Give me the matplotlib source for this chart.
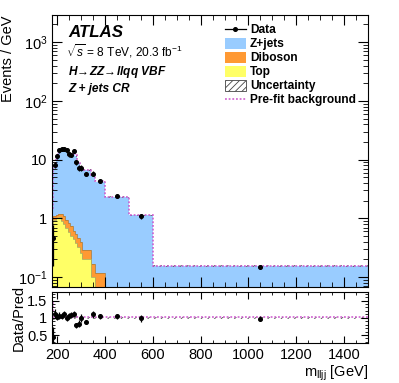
import numpy as np
import matplotlib
matplotlib.use("Agg")
import matplotlib.pyplot as plt
from matplotlib.patches import Patch
from matplotlib.lines import Line2D
from matplotlib.ticker import MultipleLocator, LogLocator, NullFormatter, FixedLocator, FixedFormatter

plt.rcParams['font.family'] = ['Liberation Sans', 'DejaVu Sans']
plt.rcParams['mathtext.fontset'] = 'custom'
plt.rcParams['mathtext.rm'] = 'Liberation Sans'
plt.rcParams['mathtext.it'] = 'Liberation Sans:italic'
plt.rcParams['hatch.linewidth'] = 0.6

# bin edges in m_lljj [GeV]
edges = [180, 185, 195, 205, 215, 225, 235, 245, 255, 265, 275, 285, 295, 305,
         340, 360, 400, 500, 600, 1500]

# events / GeV
data = [0.46, 8.2, 11.4, 14.4, 15.0, 15.0, 14.4, 12.3, 12.0, 14.0, 9.1, 7.3, 7.3,
        5.8, 5.8, 4.4, 2.4, 1.1, 0.15]
zjets = [0.45, 6.2, 9.9, 12.3, 12.9, 12.4, 13.4, 10.9, 10.4, 12.0, 11.1, 8.3, 6.9,
         6.4, 5.1, 4.1, 2.27, 1.11, 0.152]
diboson = [0.1, 0.15, 0.15, 0.15, 0.3, 0.28, 0.25, 0.27, 0.23, 0.15, 0.17, 0.15, 0.14,
           0.09, 0.07, 0.07, 0.02, 0.008, 0.001]
top = [0.5, 0.95, 1.0, 1.05, 0.9, 0.8, 0.7, 0.58, 0.5, 0.45, 0.38, 0.32, 0.26,
       0.2, 0.1, 0.05, 0.01, 0.003, 0.0005]
prefit = [1.5, 7.5, 11.2, 13.6, 14.4, 13.8, 14.6, 12.0, 11.4, 12.9, 11.9, 9.0, 7.4,
          6.8, 5.4, 4.3, 2.35, 1.14, 0.156]
rel_unc = [0.08, 0.05, 0.04, 0.04, 0.04, 0.04, 0.04, 0.04, 0.04, 0.04, 0.04, 0.04, 0.04,
           0.03, 0.03, 0.03, 0.03, 0.03, 0.03]

edges = np.array(edges, float)
data = np.array(data)
zjets, diboson, top = np.array(zjets), np.array(diboson), np.array(top)
prefit, rel_unc = np.array(prefit), np.array(rel_unc)
centers = 0.5 * (edges[1:] + edges[:-1])
widths = np.diff(edges)
total = zjets + diboson + top
data_err = np.sqrt(data * widths) / widths

c_z, c_db, c_top = '#99ccff', '#ff9933', '#ffff66'
c_pre = '#cc55cc'

W, H = 399, 383
fig = plt.figure(figsize=(W / 100, H / 100), dpi=100)
ax = fig.add_axes([52.3 / W, 1 - 287 / H, (368 - 52.3) / W, (287 - 15) / H])
rx = fig.add_axes([52.3 / W, 1 - 343.3 / H, (368 - 52.3) / W, (343.3 - 292.3) / H])

base = 1e-4
ax.stairs(total, edges, baseline=base, fill=True, color=c_z, lw=0)
ax.stairs(top + diboson, edges, baseline=base, fill=True, color=c_db, lw=0)
ax.stairs(top, edges, baseline=base, fill=True, color=c_top, lw=0)
ax.stairs(top + diboson, edges, baseline=None, color='#b08040', lw=0.6)
ax.stairs(top, edges, baseline=None, color='#b0b060', lw=0.6)
ax.stairs(total * (1 + rel_unc), edges, baseline=total * (1 - rel_unc), fill=True,
          facecolor='none', edgecolor='#555555', hatch='/////', lw=0)
ax.stairs(prefit, edges, baseline=None, color=c_pre, ls=(0, (1.2, 1.2)), lw=1.1)
ax.errorbar(centers, data, yerr=data_err, fmt='o', ms=2.6, color='k',
            elinewidth=0.9, capsize=0)

ax.set_yscale('log')
ax.set_xlim(180, 1500)
ax.set_ylim(0.068, 2900)
ax.set_xticks(range(200, 1501, 200))
ax.xaxis.set_minor_locator(MultipleLocator(50))
ax.tick_params(labelbottom=False)
ax.yaxis.set_major_locator(FixedLocator([0.1, 1, 10, 100, 1000]))
ax.yaxis.set_major_formatter(FixedFormatter([r'$10^{-1}$', '1', '10', r'$10^{2}$', r'$10^{3}$']))
ax.yaxis.set_minor_locator(LogLocator(base=10, subs=np.arange(2, 10), numticks=20))
ax.yaxis.set_minor_formatter(NullFormatter())
ax.set_ylabel('Events / GeV', loc='top', fontsize=10.5, labelpad=2)

# ratio panel
rx.stairs(1 + rel_unc, edges, baseline=1 - rel_unc, fill=True, facecolor='none',
          edgecolor='#555555', hatch='/////', lw=0)
rx.stairs(prefit / total, edges, baseline=None, color=c_pre, ls=(0, (1.2, 1.2)), lw=1.1)
rx.errorbar(centers, data / total, yerr=data_err / total, fmt='o', ms=2.6, color='k',
            elinewidth=0.9, capsize=0)
rx.set_xlim(180, 1500)
rx.set_ylim(0.26, 1.74)
rx.set_xticks(range(200, 1501, 200))
rx.xaxis.set_minor_locator(MultipleLocator(50))
rx.set_yticks([0.5, 1, 1.5])
rx.set_yticklabels(['0.5', '1', '1.5'])
rx.yaxis.set_minor_locator(MultipleLocator(0.1))
rx.set_ylabel('Data/Pred', fontsize=10.5, labelpad=1)

for a in (ax, rx):
    a.tick_params(which='both', direction='in', top=True, right=True, labelsize=10.5)
    a.tick_params(which='major', length=7, width=0.8)
    a.tick_params(which='minor', length=3.5, width=0.6)
    for s in a.spines.values():
        s.set_linewidth(0.8)
rx.tick_params(which='major', length=5)
rx.tick_params(which='minor', length=2.5)

fig.text(368 / W, 1 - 377 / H, r'm$_{\mathregular{lljj}}$ [GeV]', ha='right',
         va='baseline', fontsize=10.5)

# labels
fig.text(68 / W, 1 - 37 / H, 'ATLAS', fontsize=12.2, fontweight='bold', style='italic')
fig.text(66 / W, 1 - 57 / H, r'$\sqrt{s}$ = 8 TeV, 20.3 fb$^{-1}$', fontsize=8.6)
fig.text(68 / W, 1 - 75 / H, r'H$\!\rightarrow\!$ZZ$\!\rightarrow\!$llqq VBF',
         fontsize=8.6, fontweight='bold', style='italic')
fig.text(68 / W, 1 - 92 / H, 'Z + jets CR', fontsize=8.6, fontweight='bold', style='italic')

handles = [
    Line2D([], [], color='k', marker='o', ms=2.6, lw=0.9),
    Patch(facecolor=c_z, edgecolor='none'),
    Patch(facecolor=c_db, edgecolor='none'),
    Patch(facecolor=c_top, edgecolor='none'),
    Patch(facecolor='white', edgecolor='#444444', hatch='/////', lw=0.6),
    Line2D([], [], color=c_pre, ls=(0, (1.2, 1.2)), lw=1.1),
]
labels = ['Data', 'Z+jets', 'Diboson', 'Top', 'Uncertainty', 'Pre-fit background']
leg = ax.legend(handles, labels, loc='upper left', bbox_to_anchor=(225 / W, 1 - 24 / H),
                bbox_transform=fig.transFigure, frameon=False,
                prop={'weight': 'bold', 'size': 8.6}, handlelength=1.75,
                handleheight=1.0, handletextpad=0.35, labelspacing=0.13, borderpad=0,
                borderaxespad=0)

fig.savefig('out.png', dpi=100)
